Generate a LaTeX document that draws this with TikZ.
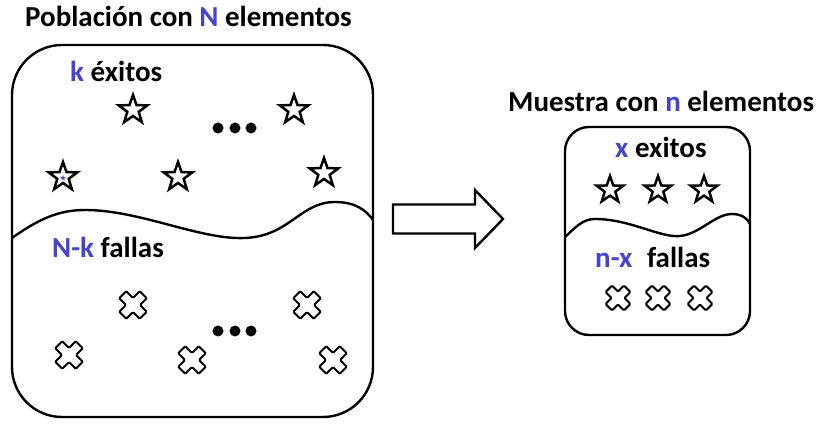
\documentclass[tikz,border=0pt]{standalone}
\usepackage{fontspec}
\setmainfont{Carlito}
\usetikzlibrary{shapes.geometric}
\definecolor{vblue}{RGB}{68,68,204}
\begin{document}
\begin{tikzpicture}[x=1pt,y=-1pt,
  box/.style={draw, line width=2.4pt, rectangle, inner sep=0pt},
  wave/.style={line width=2.4pt},
  arrowshape/.style={draw, line width=2.4pt, line join=miter},
  lbl/.style={anchor=base west, inner sep=0pt, font=\fontsize{29}{34}\selectfont\bfseries},
  starmark/.style={star, star points=5, star point ratio=2.5, draw, line width=2.5pt, minimum size=30pt, inner sep=0pt},
  smallstar/.style={starmark, minimum size=28pt},
  dotmark/.style={circle, fill, inner sep=0pt, minimum size=11pt},
  xmark/.pic={\draw[line width=2pt, rounded corners=1pt, rotate=45]
     (5,14.5) -- (5,5) -- (14.5,5) -- (14.5,-5) -- (5,-5) -- (5,-14.5) --
     (-5,-14.5) -- (-5,-5) -- (-14.5,-5) -- (-14.5,5) -- (-5,5) -- (-5,14.5) -- cycle;},
  smallx/.pic={\draw[line width=2pt, rounded corners=1pt, rotate=45]
     (4.6,13) -- (4.6,4.6) -- (13,4.6) -- (13,-4.6) -- (4.6,-4.6) -- (4.6,-13) --
     (-4.6,-13) -- (-4.6,-4.6) -- (-13,-4.6) -- (-13,4.6) -- (-4.6,4.6) -- (-4.6,13) -- cycle;}
]
\useasboundingbox (0,0) rectangle (824,435);

% titles
\node[lbl] (t1) at (25,27) {Población con \textcolor{vblue}{N} elementos};
\node[lbl] (t2) at (508,112) {Muestra con \textcolor{vblue}{n} elementos};

% population box
\node[box, minimum width=361pt, minimum height=372pt, rounded corners=50pt] (pop) at (192.5,231) {};
\draw[wave] (12,238) .. controls (40,218) and (60,210) .. (85,210)
  .. controls (140,210) and (200,240) .. (245,238)
  .. controls (290,236) and (300,202) .. (335,202)
  .. controls (355,202) and (366,210) .. (373,220);

\node[lbl] (k) at (70,82) {\textcolor{vblue}{k} éxitos};
\node[lbl] (nk) at (52,258) {\textcolor{vblue}{N-k} fallas};

\node[starmark] (s1) at (133,110) {};
\node[starmark] (s2) at (294,110) {};
\node[starmark] (s3) at (63,177) {};
\node[star, star points=5, star point ratio=2.5, fill=vblue, minimum size=6pt, inner sep=0pt] (s3c) at (63,178) {};
\node[starmark] (s4) at (178,177) {};
\node[starmark] (s5) at (324,173) {};

\node[dotmark] (d1) at (218,128) {};
\node[dotmark] (d2) at (235,128) {};
\node[dotmark] (d3) at (251,128) {};

\pic at (133,305) {xmark};
\pic at (307,305) {xmark};
\pic at (69,355) {xmark};
\pic at (192,360) {xmark};
\pic at (333,360) {xmark};

\node[dotmark] (e1) at (218,331) {};
\node[dotmark] (e2) at (235,331) {};
\node[dotmark] (e3) at (251,331) {};

% arrow
\draw[arrowshape] (393,204.5) -- (475,204.5) -- (475,190) -- (503,219) -- (475,248)
  -- (475,233.5) -- (393,233.5) -- cycle;

% sample box
\node[box, minimum width=185pt, minimum height=208pt, rounded corners=24pt] (mue) at (657.5,231) {};
\draw[wave] (565,237) .. controls (575,228) and (582,219) .. (595,219)
  .. controls (630,219) and (660,238) .. (680,236)
  .. controls (700,234) and (715,214) .. (732,214)
  .. controls (742,214) and (748,219) .. (750,224);

\node[lbl] (x) at (615,158) {\textcolor{vblue}{x} exitos};
\node[lbl] (nx) at (595,268) {\textcolor{vblue}{n-x}\hspace{8pt} fallas};

\node[smallstar] (r1) at (610,190) {};
\node[smallstar] (r2) at (658,190) {};
\node[smallstar] (r3) at (704,190) {};

\pic at (618,298) {smallx};
\pic at (658,298) {smallx};
\pic at (700,298) {smallx};
\end{tikzpicture}
\end{document}
